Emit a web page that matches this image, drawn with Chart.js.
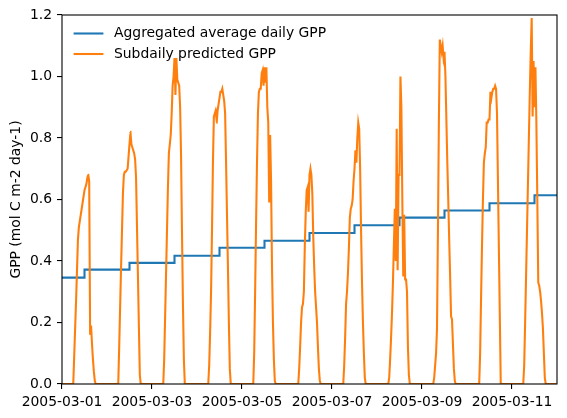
<!DOCTYPE html>
<html>
<head>
<meta charset="utf-8">
<script src="https://cdn.jsdelivr.net/npm/chart.js@4/dist/chart.umd.min.js"></script>
<style>
  html, body { margin: 0; padding: 0; background: #fff; }
  canvas { display: block; }
</style>
</head>
<body>
<canvas id="plotHere" width="567" height="418"></canvas>
<script>
// x axis: days since 2005-03-01 00:00
const tickDays = [0, 2, 4, 6, 8, 10];
const tickLabels = ['2005-03-01', '2005-03-03', '2005-03-05', '2005-03-07', '2005-03-09', '2005-03-11'];
const yTicks = [0, 0.2, 0.4, 0.6, 0.8, 1.0, 1.2];

// aggregated daily GPP, one value per day (03-01 ... 03-12), drawn as steps centred on midnight
const dailyDays = [0, 1, 2, 3, 4, 5, 6, 7, 8, 9, 10, 11];
const dailyGPP = [0.346, 0.372, 0.394, 0.417, 0.443, 0.466, 0.491, 0.516, 0.541, 0.564, 0.588, 0.614];

// subdaily GPP, half-hourly from 06:00 to 18:00 (25 values), zero during the night
const gpp0301 = [0, 0.09, 0.18, 0.27, 0.37, 0.47, 0.51, 0.53, 0.55, 0.57, 0.59, 0.61, 0.63, 0.64, 0.65, 0.67, 0.68, 0.66, 0.16, 0.19, 0.13, 0.08, 0.04, 0.01, 0];
const gpp0302 = [0, 0.12, 0.25, 0.38, 0.5, 0.62, 0.68, 0.69, 0.69, 0.695, 0.70, 0.74, 0.78, 0.82, 0.78, 0.77, 0.76, 0.75, 0.73, 0.67, 0.51, 0.35, 0.19, 0.03, 0];
const gpp0303 = [0, 0.08, 0.22, 0.36, 0.5, 0.64, 0.75, 0.78, 0.81, 0.88, 0.97, 1.0, 1.06, 0.94, 1.06, 0.99, 0.98, 0.97, 0.9, 0.74, 0.49, 0.26, 0.08, 0, 0];
const gpp0304 = [0, 0.06, 0.17, 0.3, 0.5, 0.72, 0.87, 0.88, 0.89, 0.85, 0.89, 0.91, 0.93, 0.95, 0.95, 0.96, 0.94, 0.92, 0.88, 0.72, 0.55, 0.38, 0.2, 0.05, 0];
const gpp0305 = [0, 0.1, 0.3, 0.52, 0.72, 0.88, 0.95, 0.96, 0.96, 1.01, 1.02, 0.97, 1.03, 0.98, 1.03, 0.9, 0.85, 0.59, 0.81, 0.66, 0.38, 0.2, 0.08, 0.01, 0];
const gpp0306 = [0, 0.05, 0.12, 0.2, 0.25, 0.26, 0.3, 0.45, 0.56, 0.63, 0.64, 0.56, 0.68, 0.70, 0.68, 0.62, 0.48, 0.38, 0.3, 0.25, 0.2, 0.12, 0.05, 0.01, 0];
const gpp0307 = [0, 0.06, 0.15, 0.26, 0.3, 0.36, 0.44, 0.54, 0.57, 0.58, 0.6, 0.66, 0.7, 0.76, 0.72, 0.8, 0.85, 0.83, 0.7, 0.5, 0.33, 0.2, 0.1, 0.02, 0];
const gpp0308 = [0, 0.02, 0.08, 0.15, 0.23, 0.33, 0.45, 0.57, 0.4, 0.83, 0.37, 0.68, 0.68, 1.0, 0.9, 0.6, 0.35, 0.55, 0.34, 0.34, 0.3, 0.12, 0.03, 0, 0];
const gpp0309 = [0, 0.02, 0.06, 0.1, 0.18, 0.5, 0.85, 1.12, 1.1, 1.08, 1.1, 1.06, 1.08, 1.0, 0.86, 0.72, 0.6, 0.47, 0.35, 0.22, 0.21, 0.13, 0.05, 0.01, 0];
const gpp0310 = [0, 0, 0.1, 0.28, 0.45, 0.6, 0.72, 0.75, 0.77, 0.85, 0.85, 0.86, 0.86, 0.95, 0.93, 0.95, 0.96, 0.96, 0.97, 0.96, 0.88, 0.66, 0.44, 0.22, 0];
const gpp0311 = [0, 0.06, 0.2, 0.35, 0.5, 0.65, 0.8, 0.95, 1.08, 1.19, 0.87, 1.05, 0.9, 1.03, 0.85, 0.6, 0.33, 0.32, 0.3, 0.27, 0.23, 0.18, 0.1, 0.02, 0];
const subdailyDays = [gpp0301, gpp0302, gpp0303, gpp0304, gpp0305, gpp0306, gpp0307, gpp0308, gpp0309, gpp0310, gpp0311];

const FONT = '"DejaVu Sans", sans-serif';
const FS = 13.9;
const LW = 2.08; // 1.5 pt at 100 dpi

// build chart points from the arrays
let pDaily = dailyDays.map((d, i) => ({ x: d, y: dailyGPP[i] }));
let pSub = [];
subdailyDays.forEach((arr, d) => {
  for (let k = 0; k < 48; k++) {
    let h = k / 2;
    let v = (h >= 6 && h <= 18) ? arr[k - 12] : 0;
    pSub.push({ x: d + h / 24, y: v });
  }
});

// box around the axes + matplotlib-like legend in the upper left
const boxAndLegend = {
  id: 'boxAndLegend',
  afterDatasetsDraw(chart) {
    const ctx = chart.ctx, a = chart.chartArea;
    ctx.save();
    ctx.strokeStyle = '#000';
    ctx.lineWidth = 1.1;
    ctx.strokeRect(a.left, a.top, a.right - a.left, a.bottom - a.top);
    // legend
    ctx.font = FS + 'px ' + FONT;
    ctx.textBaseline = 'middle';
    ctx.fillStyle = '#000';
    chart.data.datasets.forEach((ds, i) => {
      let y = a.top + 18.5 + i * 20.5;
      ctx.strokeStyle = ds.borderColor;
      ctx.lineWidth = LW;
      ctx.beginPath();
      ctx.moveTo(a.left + 11.6, y);
      ctx.lineTo(a.left + 41.4, y);
      ctx.stroke();
      ctx.fillText(ds.label, a.left + 52, y);
    });
    ctx.restore();
  }
};

new Chart(document.getElementById('plotHere').getContext('2d'), {
  type: 'line',
  data: {
    datasets: [{
      label: 'Aggregated average daily GPP',
      data: pDaily,
      borderColor: '#1f77b4',
      borderWidth: LW,
      stepped: 'middle',
      pointRadius: 0,
      order: 2
    },
    {
      label: 'Subdaily predicted GPP',
      data: pSub,
      borderColor: '#ff7f0e',
      borderWidth: LW,
      pointRadius: 0,
      tension: 0.00001, // keeps the line off the per-pixel fast path
      order: 1
    }]
  },
  options: {
    responsive: false,
    animation: false,
    devicePixelRatio: 1,
    layout: { padding: { top: 15, right: 10, left: 0, bottom: 0 } },
    plugins: { legend: { display: false }, tooltip: { enabled: false } },
    scales: {
      x: {
        type: 'linear',
        min: 0,
        max: 11,
        afterBuildTicks: s => { s.ticks = tickDays.map(v => ({ value: v })); },
        afterFit: s => { s.height = 34; },
        ticks: {
          autoSkip: false,
          maxRotation: 0,
          padding: 5,
          color: '#000',
          font: { family: FONT, size: FS },
          callback: v => tickLabels[tickDays.indexOf(v)]
        },
        grid: { drawOnChartArea: false, drawTicks: true, tickLength: 5, color: '#000', lineWidth: 1.1 },
        border: { display: false }
      },
      y: {
        min: 0,
        max: 1.2,
        afterBuildTicks: s => { s.ticks = yTicks.map(v => ({ value: v })); },
        afterFit: s => { s.width = 62; },
        ticks: {
          padding: 5,
          color: '#000',
          font: { family: FONT, size: FS },
          callback: v => v.toFixed(1)
        },
        grid: { drawOnChartArea: false, drawTicks: true, tickLength: 5, color: '#000', lineWidth: 1.1 },
        border: { display: false },
        title: {
          display: true,
          text: 'GPP (mol C m-2 day-1)',
          color: '#000',
          font: { family: FONT, size: FS },
          padding: { top: 8, bottom: 0 }
        }
      }
    }
  },
  plugins: [boxAndLegend]
});
</script>
</body>
</html>
